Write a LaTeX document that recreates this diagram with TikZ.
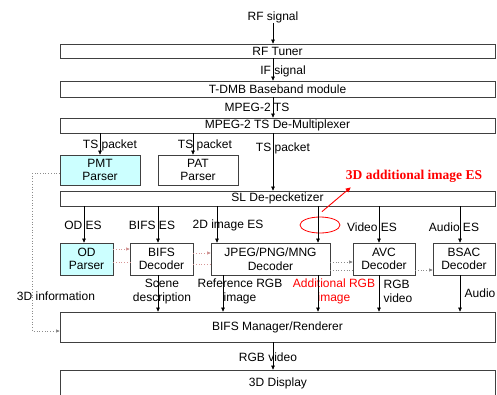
\documentclass[tikz,border=0pt]{standalone}
\usepackage{fontspec}
\setmainfont{Liberation Sans}
\newfontfamily\serifbold{Liberation Serif}
\usetikzlibrary{arrows.meta,shapes.geometric,calc}
\definecolor{cyanfill}{RGB}{204,255,255}
\definecolor{dotred}{RGB}{215,150,150}
\definecolor{dotgray}{RGB}{140,140,140}
\begin{document}
\begin{tikzpicture}[x=1pt,y=-1pt,
  txt/.style={font=\fontsize{12}{13.5}\selectfont},
  box/.style={draw=black!75, line width=0.7pt, inner sep=0pt, align=center, txt},
  wide/.style={box, minimum width=435pt},
  dec/.style={box, minimum height=32pt},
  lbl/.style={inner sep=0pt, align=center, txt},
  arr/.style={-{Triangle[length=4pt,width=3.5pt]}, line width=0.6pt},
  dotsA/.style={dotted, line width=0.7pt, draw=dotred},
  dotsB/.style={dotted, line width=0.7pt, draw=dotgray},
  dtip/.style={-{Triangle[length=3.5pt,width=3pt,fill=black]}}]
\useasboundingbox (0,0) rectangle (497,394);

% coordinates for vertical connector positions
\coordinate (xm) at (273,0);
\coordinate (xpat) at (193,0);
\coordinate (xod) at (84,0);
\coordinate (xbifs) at (158,0);
\coordinate (xref) at (223,0);
\coordinate (x2d) at (217,0);
\coordinate (xadd) at (318,0);
\coordinate (xavc) at (379,0);
\coordinate (xbsac) at (460,0);

% top chain
\node[lbl] (rfsig) at (273,17) {RF signal};
\node[wide, minimum height=14pt] (tuner) at (277.5,51) {RF Tuner};
\node[lbl] (ifsig) at (283,71) {IF signal};
\node[wide, minimum height=16pt] (tdmb) at (277.5,89) {T-DMB Baseband module};
\node[lbl] (mts) at (257,107) {MPEG-2 TS};
\node[wide, minimum height=15pt] (demux) at (277.5,125.5) {MPEG-2 TS De-Multiplexer};

\node[lbl] (ts1) at (110,145) {TS packet};
\node[lbl] (ts2) at (205,145) {TS packet};
\node[lbl] (ts3) at (283,148) {TS packet};

\node[box, fill=cyanfill, minimum width=80pt, minimum height=30pt] (pmt) at (100,170) {PMT\\Parser};
\node[box, minimum width=80pt, minimum height=30pt] (pat) at (198,170) {PAT\\Parser};

\node[wide, minimum height=15pt] (sl) at (277.5,198.5) {SL De-pecketizer};

\node[inner sep=0pt, text=red, font=\serifbold\bfseries\fontsize{13.5}{15}\selectfont] (add3d) at (414,176) {3D additional image ES};
\node[draw=red, ellipse, line width=0.8pt, minimum width=40pt, minimum height=16pt, inner sep=0pt] (ell) at (320,225) {};

% ES labels
\node[lbl] (odes) at (83,225) {OD ES};
\node[lbl] (bifses) at (152,225) {BIFS ES};
\node[lbl] (imges) at (228,225) {2D image ES};
\node[lbl] (vides) at (372,227) {Video ES};
\node[lbl] (audes) at (454,227) {Audio ES};

% decoders
\node[dec, fill=cyanfill, minimum width=53pt] (od) at (86.5,259) {OD\\Parser};
\node[dec, minimum width=63pt] (bifs) at (161.5,259) {BIFS\\Decoder};
\node[dec, minimum width=119pt] (jpeg) at (270.5,259) {JPEG/PNG/MNG\\Decoder};
\node[dec, minimum width=62pt] (avc) at (384,259) {AVC\\Decoder};
\node[dec, minimum width=62pt] (bsac) at (464,259) {BSAC\\Decoder};

% lower labels
\node[lbl] (scene) at (162,291.5) {Scene\\description};
\node[lbl] (refrgb) at (240,291.5) {Reference RGB\\image};
\node[lbl, text=red] (addrgb) at (334,291.5) {Additional RGB\\image};
\node[lbl, align=left] (rgbv) at (398,291.5) {RGB\\video};
\node[lbl] (audio) at (480,293) {Audio};
\node[lbl] (info3d) at (56,296) {3D information};

\node[wide, minimum height=30pt] (mgr) at (277.5,327) {BIFS Manager/Renderer};
\node[lbl] (rgbvid) at (268,357) {RGB video};
\node[wide, minimum height=28pt] (disp) at (277.5,384) {};
\node[lbl] (disptxt) at (278,383) {3D Display};

% top arrows
\draw[arr] (rfsig.south) -- (rfsig.south |- tuner.north);
\draw[arr] (tuner.south -| xm) -- (tdmb.north -| xm);
\draw[arr] (tdmb.south -| xm) -- (demux.north -| xm);
\draw[arr] (demux.south -| pmt.north) -- (pmt.north);
\draw[arr] (demux.south -| xpat) -- (pat.north -| xpat);
\draw[arr] (demux.south -| xm) -- (sl.north -| xm);

% SL to decoders
\draw[arr] (sl.south -| xod) -- (od.north -| xod);
\draw[arr] (sl.south -| xbifs) -- (bifs.north -| xbifs);
\draw[arr] (sl.south -| x2d) -- (jpeg.north -| x2d);
\draw[arr] (sl.south -| xadd) -- (jpeg.north -| xadd);
\draw[arr] (sl.south -| xavc) -- (avc.north -| xavc);
\draw[arr] (sl.south -| xbsac) -- (bsac.north -| xbsac);

% decoders to manager
\draw[arr] (bifs.south -| xbifs) -- (mgr.north -| xbifs);
\draw[arr] (jpeg.south -| xref) -- (mgr.north -| xref);
\draw[arr] (jpeg.south -| xadd) -- (mgr.north -| xadd);
\draw[arr] (avc.south -| xavc) -- (mgr.north -| xavc);
\draw[arr] (bsac.south -| xbsac) -- (mgr.north -| xbsac);
\draw[arr] (mgr.south -| xm) -- (disp.north -| xm);

% dotted links between decoders
\draw[dotsA, dtip] ($(od.east)+(0,-10)$) -- ($(bifs.west)+(0,-10)$);
\draw[dotsA] ($(od.east)+(0,3)$) -- ($(bifs.west)+(0,3)$);
\draw[dotsA, dtip] ($(bifs.east)+(0,-6)$) -- ($(jpeg.west)+(0,-6)$);
\draw[dotsA] ($(bifs.east)+(0,5)$) -- ($(jpeg.west)+(0,5)$);
\draw[dotsB, dtip] ($(jpeg.east)+(0,3)$) -- ($(avc.west)+(0,3)$);
\draw[dotsB] ($(jpeg.east)+(0,11)$) -- ($(avc.west)+(0,11)$);
\draw[dotsB, dtip] ($(avc.east)+(0,11)$) -- ($(bsac.west)+(0,11)$);

% 3D information path
\draw[dotsB, dtip] ($(pmt.west)+(0,3)$) -- ++(-27,0) |- ($(mgr.west)+(0,4)$);

% red annotation arrow
\draw[red, line width=0.9pt, -{Triangle[length=5pt,width=4.5pt]}] ($(ell.north)+(2,-5)$) -- ($(add3d.south west)+(5,5)$);
\end{tikzpicture}
\end{document}
